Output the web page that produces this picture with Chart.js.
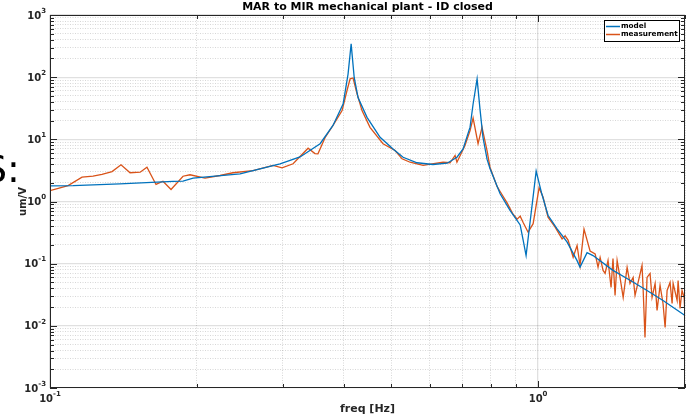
<!DOCTYPE html>
<html>
<head>
<meta charset="utf-8">
<script src="https://cdn.jsdelivr.net/npm/chart.js@4"></script>
<style>
  html, body { margin: 0; padding: 0; background: #fff; }
  #wrap { position: relative; width: 695px; height: 419px; overflow: hidden; }
  #stray { position: absolute; left: -17px; top: 147px; font: 38px "DejaVu Sans", sans-serif; color: #000; }
</style>
</head>
<body>
<div id="wrap">
  <canvas id="c" width="695" height="419"></canvas>
  <div id="stray">S:</div>
</div>
<script>
const TITLE = "MAR to MIR mechanical plant - ID closed";
const X_LABEL = "freq [Hz]";
const Y_LABEL = "um/V";
const SERIES = ["model", "measurement"];

const X_DECADES = [-1, 0];
const Y_DECADES = [-3, -2, -1, 0, 1, 2, 3];

const FREQ_MODEL = [0.1, 0.1115, 0.139, 0.1786, 0.1873, 0.1964, 0.2451, 0.296, 0.3253, 0.3576,
  0.380, 0.3986, 0.408, 0.414, 0.42, 0.4277, 0.4462, 0.4746, 0.5045, 0.529,
  0.565, 0.609, 0.651, 0.682, 0.702, 0.7255, 0.736, 0.750, 0.7605, 0.771,
  0.786, 0.797, 0.836, 0.876, 0.919, 0.932, 0.945, 0.991, 1.0176, 1.048,
  1.094, 1.147, 1.202, 1.219, 1.26, 1.296, 1.424, 1.543, 1.672, 1.803, 2.0];
const MAG_MODEL = [1.78, 1.80, 1.92, 2.1, 2.12, 2.37, 2.79, 4.04, 5.2, 8.5,
  16.7, 37, 112, 343, 99, 47, 22.6, 10.8, 7.0, 5.15,
  4.2, 3.94, 4.13, 5.15, 7.0, 15.7, 37, 94, 30, 10.8,
  4.8, 3.4, 1.33, 0.72, 0.42, 0.24, 0.135, 3.07, 1.33, 0.6,
  0.364, 0.222, 0.112, 0.088, 0.15, 0.135, 0.078, 0.054, 0.037, 0.0256, 0.0147];

const FREQ_MEAS = [0.1, 0.1089, 0.1163, 0.1225, 0.1278, 0.134, 0.1398, 0.1459, 0.153, 0.158,
  0.1649, 0.1704, 0.177, 0.1873, 0.1936, 0.2078, 0.223, 0.2371, 0.2606, 0.2864,
  0.2988, 0.3148, 0.3253, 0.3379, 0.349, 0.354, 0.366, 0.380, 0.3967, 0.406,
  0.412, 0.4178, 0.4257, 0.4358, 0.4525, 0.4812, 0.5093, 0.5264, 0.5467, 0.5813,
  0.6064, 0.6388, 0.660, 0.676, 0.682, 0.708, 0.7255, 0.736, 0.7534, 0.7677,
  0.786, 0.797, 0.824, 0.836, 0.864, 0.888, 0.906, 0.919, 0.932, 0.954,
  0.977, 1.0047, 1.024, 1.048, 1.083, 1.12, 1.136, 1.152, 1.18, 1.202,
  1.219, 1.242, 1.278, 1.309, 1.327, 1.340, 1.359, 1.372, 1.391, 1.411,
  1.424, 1.438, 1.452, 1.472, 1.494, 1.522, 1.543, 1.566, 1.580, 1.603,
  1.633, 1.641, 1.656, 1.672, 1.696, 1.712, 1.737, 1.753, 1.778, 1.803,
  1.821, 1.838, 1.864, 1.882, 1.891, 1.927, 1.936, 1.954, 1.972, 1.992, 2.0];
const MAG_MEAS = [1.5, 1.8, 2.46, 2.55, 2.72, 3.03, 3.89, 2.9, 2.96, 3.56,
  1.88, 2.12, 1.56, 2.55, 2.69, 2.37, 2.62, 2.9, 3.15, 3.8,
  3.48, 4.04, 5.3, 7.2, 5.9, 5.84, 10.6, 16.7, 29, 61,
  94, 97, 54, 29, 15.6, 8.5, 6.6, 4.86, 4.28, 3.8,
  4.04, 4.28, 4.2, 5.5, 4.28, 7.9, 13.8, 22, 8.5, 15.6,
  6.6, 3.56, 1.75, 1.45, 0.95, 0.63, 0.52, 0.58, 0.46, 0.32,
  0.44, 1.66, 1.17, 0.56, 0.39, 0.25, 0.28, 0.24, 0.127, 0.196,
  0.094, 0.36, 0.16, 0.144, 0.088, 0.126, 0.0778, 0.0696, 0.1125, 0.0414,
  0.121, 0.0308, 0.1125, 0.060, 0.0286, 0.0869, 0.0481, 0.060, 0.0308, 0.0499,
  0.0935, 0.0414, 0.0065, 0.060, 0.0696, 0.0286, 0.0481, 0.0177, 0.0447, 0.0229,
  0.0094, 0.0371, 0.0499, 0.0229, 0.0481, 0.0256, 0.0537, 0.019, 0.0371, 0.0286, 0.0147];

const C = { model: "#0072BD", meas: "#D95319", axis: "#262626", major: "rgba(0,0,0,0.12)", minor: "rgba(0,0,0,0.2)" };
const FONT = "'DejaVu Sans', sans-serif";

const isDecade = v => Math.abs(Math.log10(v) - Math.round(Math.log10(v))) < 1e-6;
function logTicks(lo, hi) {
  const out = [];
  for (let e = lo; e < hi; e++) for (let m = 1; m < 10; m++) out.push(m * Math.pow(10, e));
  out.push(Math.pow(10, hi));
  return out;
}
const X_TICKS = logTicks(-1, 0).concat([2]);
const Y_TICKS = logTicks(-3, 3);

const zip = (xs, ys) => xs.map((x, i) => ({ x, y: ys[i] }));

function axisOpts(min, max, ticks) {
  return {
    type: "logarithmic", min, max,
    afterBuildTicks: ax => { ax.ticks = ticks.map(v => ({ value: v, major: isDecade(v) })); },
    ticks: { display: false },
    grid: {
      drawTicks: false,
      color: c => c.tick && isDecade(c.tick.value) ? C.major : C.minor,
      lineWidth: c => c.tick && isDecade(c.tick.value) ? 1.3 : 0.8
    },
    border: { display: false, dash: c => c.tick && !isDecade(c.tick.value) ? [1, 1.5] : [] }
  };
}

function drawPow(ctx, exp, x, y, align) {
  const base = "10", sup = String(exp);
  ctx.font = "bold 10px " + FONT;
  const wb = ctx.measureText(base).width;
  ctx.font = "bold 7px " + FONT;
  const ws = ctx.measureText(sup).width;
  const x0 = align === "right" ? x - wb - ws : x - (wb + ws) / 2;
  ctx.textAlign = "left"; ctx.textBaseline = "middle";
  ctx.font = "bold 10px " + FONT;
  ctx.fillText(base, x0, y);
  ctx.font = "bold 7px " + FONT;
  ctx.fillText(sup, x0 + wb, y - 5);
}

const frame = {
  id: "frame",
  afterDatasetsDraw(chart) {
    const { ctx, chartArea: a, scales: { x, y } } = chart;
    ctx.save();
    ctx.strokeStyle = C.axis; ctx.fillStyle = C.axis; ctx.lineWidth = 1;
    ctx.strokeRect(a.left + 0.5, a.top + 0.5, a.right - a.left - 1, a.bottom - a.top - 1);
    ctx.beginPath();
    X_TICKS.forEach(v => {
      const px = Math.round(x.getPixelForValue(v)) + 0.5, L = isDecade(v) ? 7 : 4;
      ctx.moveTo(px, a.bottom); ctx.lineTo(px, a.bottom - L);
      ctx.moveTo(px, a.top); ctx.lineTo(px, a.top + L);
    });
    Y_TICKS.forEach(v => {
      const py = Math.round(y.getPixelForValue(v)) + 0.5, L = isDecade(v) ? 7 : 4;
      ctx.moveTo(a.left, py); ctx.lineTo(a.left + L, py);
      ctx.moveTo(a.right, py); ctx.lineTo(a.right - L, py);
    });
    ctx.stroke();

    Y_DECADES.forEach(e => drawPow(ctx, e, a.left - 4, y.getPixelForValue(Math.pow(10, e)) + 1, "right"));
    X_DECADES.forEach(e => drawPow(ctx, e, x.getPixelForValue(Math.pow(10, e)), a.bottom + 11, "center"));

    ctx.fillStyle = "#000"; ctx.textAlign = "center"; ctx.textBaseline = "middle";
    ctx.font = "bold 11px " + FONT;
    ctx.fillText(TITLE, (a.left + a.right) / 2, 7);
    ctx.fillStyle = C.axis;
    ctx.fillText(X_LABEL, (a.left + a.right) / 2, 409);
    ctx.save();
    ctx.font = "bold 10px " + FONT;
    ctx.translate(23, (a.top + a.bottom) / 2);
    ctx.rotate(-Math.PI / 2);
    ctx.fillText(Y_LABEL, 0, 0);
    ctx.restore();

    // legend box
    const lx = 604, ly = 20, lw = 75, lh = 21;
    ctx.fillStyle = "#fff"; ctx.fillRect(lx, ly, lw, lh);
    ctx.strokeStyle = "#000"; ctx.lineWidth = 1; ctx.strokeRect(lx + 0.5, ly + 0.5, lw, lh);
    [C.model, C.meas].forEach((col, i) => {
      const yy = ly + 6.5 + i * 8;
      ctx.strokeStyle = col; ctx.lineWidth = 1.5;
      ctx.beginPath(); ctx.moveTo(lx + 2, yy); ctx.lineTo(lx + 16, yy); ctx.stroke();
      ctx.fillStyle = "#000"; ctx.textAlign = "left"; ctx.font = "bold 7.3px " + FONT;
      ctx.fillText(SERIES[i], lx + 17, yy);
    });
    ctx.restore();
  }
};

new Chart(document.getElementById("c"), {
  type: "line",
  data: {
    datasets: [
      { label: SERIES[0], data: zip(FREQ_MODEL, MAG_MODEL), borderColor: C.model, borderWidth: 1.3, pointRadius: 0, tension: 0 },
      { label: SERIES[1], data: zip(FREQ_MEAS, MAG_MEAS), borderColor: C.meas, borderWidth: 1.3, pointRadius: 0, tension: 0 }
    ]
  },
  options: {
    responsive: false, animation: false, events: [],
    layout: { padding: { left: 50, right: 10, top: 15, bottom: 31 } },
    plugins: { legend: { display: false }, tooltip: { enabled: false } },
    scales: {
      x: axisOpts(0.1, 2, X_TICKS),
      y: axisOpts(1e-3, 1e3, Y_TICKS)
    }
  },
  plugins: [frame]
});
</script>
</body>
</html>
